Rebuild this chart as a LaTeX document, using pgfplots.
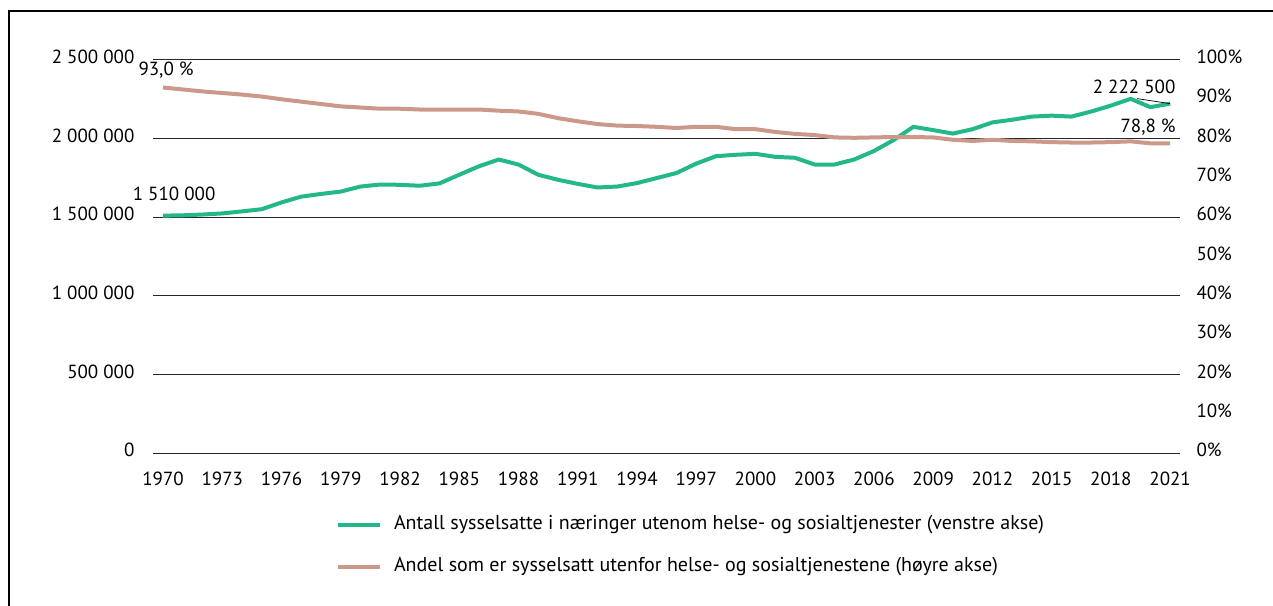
\documentclass[border=0pt]{standalone}
\usepackage{fontspec}
\setmainfont{PT Sans}
\usepackage{pgfplots}
\pgfplotsset{compat=1.18}
\definecolor{grn}{RGB}{35,184,138}
\definecolor{pnk}{RGB}{204,152,138}
\pgfplotstableread{
year val
1970 1510000
1971 1512000
1972 1517000
1973 1524000
1974 1537000
1975 1551000
1976 1594000
1977 1631000
1978 1648000
1979 1663000
1980 1695000
1981 1708000
1982 1706000
1983 1700000
1984 1715000
1985 1770000
1986 1824000
1987 1867000
1988 1835000
1989 1770000
1990 1738000
1991 1712000
1992 1689000
1993 1695000
1994 1717000
1995 1749000
1996 1781000
1997 1841000
1998 1888000
1999 1897000
2000 1903000
2001 1884000
2002 1878000
2003 1835000
2004 1835000
2005 1867000
2006 1921000
2007 1991000
2008 2075000
2009 2054000
2010 2032000
2011 2060000
2012 2103000
2013 2120000
2014 2140000
2015 2146000
2016 2140000
2017 2172000
2018 2210000
2019 2253000
2020 2200000
2021 2222500
}\green
\pgfplotstableread{
year val
1970 93.0
1971 92.5
1972 92.0
1973 91.6
1974 91.2
1975 90.7
1976 90.0
1977 89.4
1978 88.8
1979 88.2
1980 87.9
1981 87.6
1982 87.6
1983 87.4
1984 87.4
1985 87.4
1986 87.4
1987 87.1
1988 86.9
1989 86.3
1990 85.2
1991 84.4
1992 83.7
1993 83.3
1994 83.2
1995 83.0
1996 82.7
1997 83.0
1998 83.0
1999 82.4
2000 82.4
2001 81.7
2002 81.2
2003 80.9
2004 80.3
2005 80.2
2006 80.3
2007 80.4
2008 80.4
2009 80.3
2010 79.7
2011 79.4
2012 79.7
2013 79.4
2014 79.3
2015 79.1
2016 79.0
2017 79.0
2018 79.1
2019 79.3
2020 78.8
2021 78.8
}\pink
\newcommand{\ff}{\fontsize{19bp}{22bp}\selectfont}
\newcommand{\fl}{\fontsize{20bp}{23bp}\selectfont}
\begin{document}
\begin{tikzpicture}
\ff
\useasboundingbox (-153bp,-153bp) rectangle (1120bp,453bp);
\draw[line width=2bp] (-144bp,-153bp) -- (-144bp,442bp) -- (1120bp,442bp);
\begin{axis}[
  at={(0,0)}, anchor=south west,
  scale only axis, width=1027bp, height=393bp,
  xmin=1969.49, xmax=2021.5,
  ymin=0, ymax=2500000,
  axis line style={draw=none},
  major tick length=0pt,
  xtick={1970,1973,...,2021},
  xticklabels={1970,1973,1976,1979,1982,1985,1988,1991,1994,1997,2000,2003,2006,2009,2012,2015,2018,2021},
  ytick={0,500000,1000000,1500000,2000000,2500000},
  yticklabels={0,500 000,1 000 000,1 500 000,2 000 000,2 500 000},
  scaled y ticks=false,
  ymajorgrids,
  grid style={black!85, line width=1bp},
  tick label style={font=\ff},
  xticklabel style={yshift=-12bp},
  yticklabel style={xshift=-12bp, yshift=3bp},
  clip=false,
]
\addplot[grn, line width=4bp, line join=round] table[x=year,y=val] {\green};
\node[font=\ff] at (axis cs:1970,1510000) [xshift=11bp, yshift=22bp] {1 510 000};
\node[font=\ff] at (axis cs:2021,2222500) [xshift=-36bp, yshift=17bp] {2 222 500};
\draw[black, line width=0.7bp] (axis cs:2021,2222500) -- ++(-33bp,5bp);
\end{axis}
\begin{axis}[
  at={(0,0)}, anchor=south west,
  scale only axis, width=1027bp, height=393bp,
  xmin=1969.49, xmax=2021.5,
  ymin=0, ymax=100,
  axis line style={draw=none},
  major tick length=0pt,
  xtick=\empty,
  ytick={0,10,...,100},
  yticklabels={0\%,10\%,20\%,30\%,40\%,50\%,60\%,70\%,80\%,90\%,100\%},
  yticklabel pos=right,
  tick label style={font=\ff},
  yticklabel style={xshift=10bp, yshift=3bp},
  clip=false,
  legend cell align=left,
  legend style={at={(0.1782,-0.2366)}, anchor=west, draw=none, fill=none,
    inner sep=0pt, outer sep=0pt, row sep=25bp, font=\fl,
    nodes={inner sep=0pt, text height=13bp, text depth=4bp}},
  /tikz/every odd column/.style={column sep=12bp},
  legend image code/.code={\draw[#1] (0bp,0bp) -- (42bp,0bp);},
]
\addlegendimage{grn, line width=4bp}
\addlegendentry{Antall sysselsatte i næringer utenom helse- og sosialtjenester (venstre akse)}
\addplot[pnk, line width=4bp, line join=round] table[x=year,y=val] {\pink};
\addlegendentry{Andel som er sysselsatt utenfor helse- og sosialtjenestene (høyre akse)}
\node[font=\ff] at (axis cs:1970,93) [xshift=3bp, yshift=17bp] {93,0 \%};
\node[font=\ff] at (axis cs:2021,78.8) [xshift=-22bp, yshift=16bp] {78,8 \%};
\end{axis}
\end{tikzpicture}
\end{document}
